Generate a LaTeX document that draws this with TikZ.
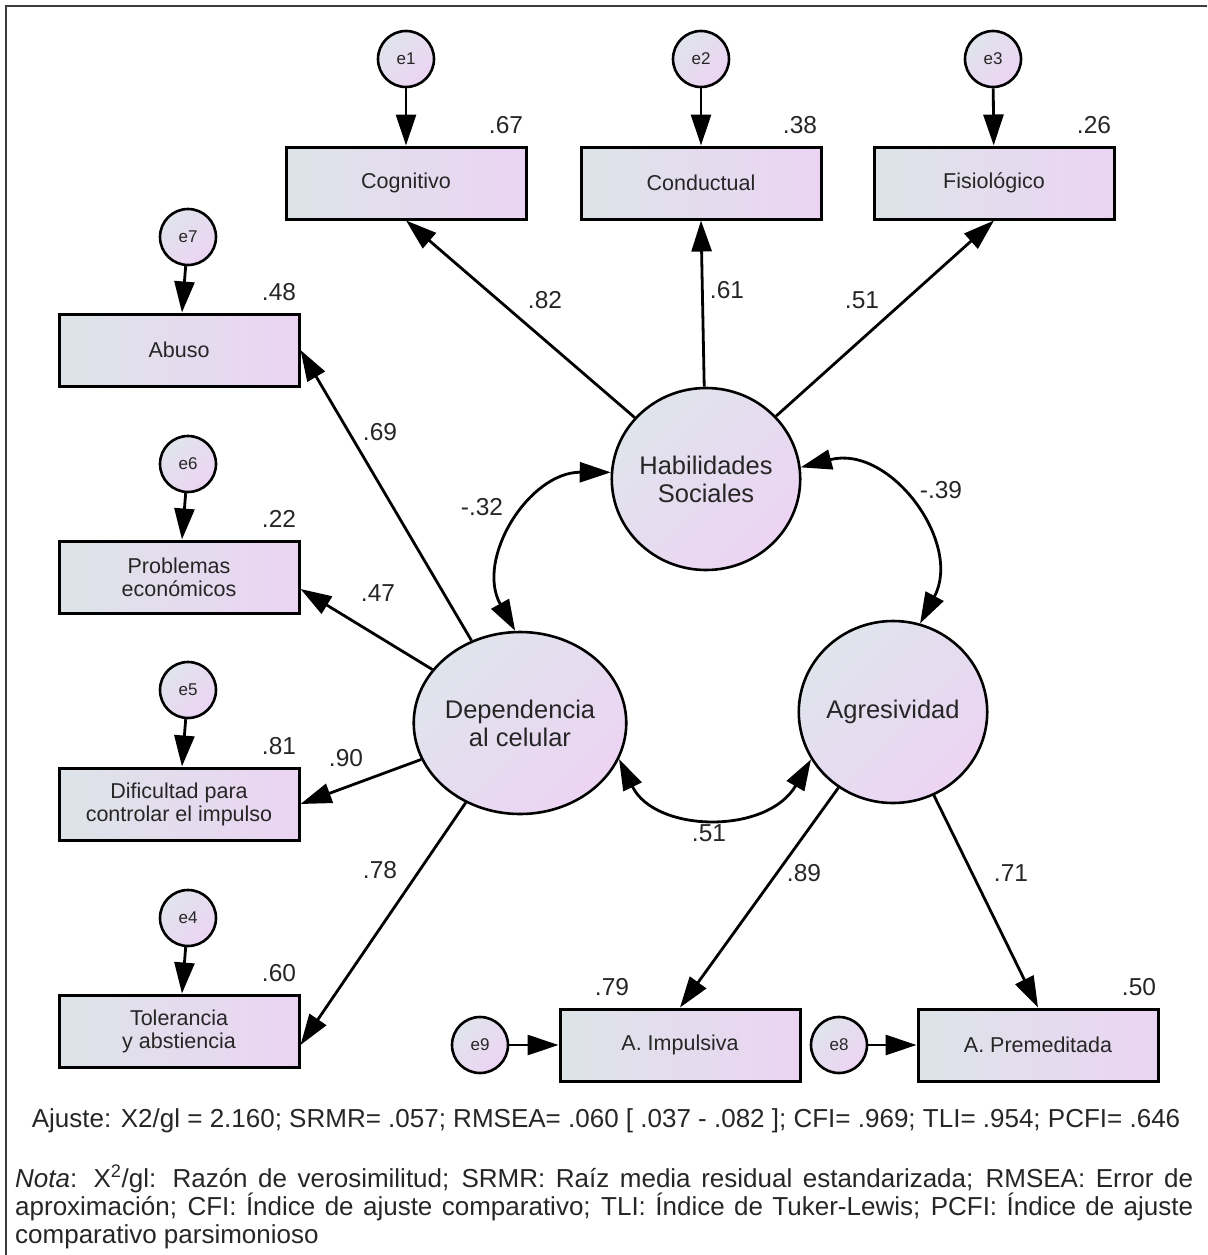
\documentclass[tikz,border=0pt]{standalone}
\usepackage{fontspec}
\setmainfont{Liberation Sans}
\usetikzlibrary{arrows.meta,shapes.geometric}
\definecolor{bxL}{RGB}{221,228,232}
\definecolor{bxR}{RGB}{235,212,243}
\definecolor{ciL}{RGB}{224,228,236}
\definecolor{ciR}{RGB}{236,212,243}
\definecolor{frm}{RGB}{60,60,60}
\begin{document}
\begin{tikzpicture}[x=1pt,y=-1pt,
  obs/.style={draw, line width=3pt, minimum width=240pt, minimum height=72pt, inner sep=0pt,
    left color=bxL, right color=bxR, align=center, text=black!85,
    font=\fontsize{21.5}{23}\selectfont},
  lat/.style={ellipse, draw, line width=2.6pt, minimum width=188pt, minimum height=182pt, inner sep=0pt,
    left color=ciL, right color=ciR, shading angle=45, align=center, text=black!85,
    font=\fontsize{25.5}{28}\selectfont},
  err/.style={circle, draw, line width=2.6pt, minimum size=56pt, inner sep=0pt,
    left color=ciL, right color=ciR, shading angle=45, text=black!85,
    font=\fontsize{17}{17}\selectfont},
  arr/.style={line width=2.8pt, -{Triangle[length=31pt,width=20pt]}},
  cov/.style={line width=2.8pt, {Triangle[length=31pt,width=20pt]}-{Triangle[length=31pt,width=20pt]}},
  num/.style={inner sep=0pt, text=black!85, font=\fontsize{24.5}{24.5}\selectfont},
  ftxt/.style={inner sep=0pt, text=black!85, font=\fontsize{26}{27.5}\selectfont}
]
\useasboundingbox (0,0) rectangle (1207,1255);
\draw[line width=1.8pt, frm] (6,1255) -- (6,6) -- (1207,6);

% top indicators
\node[obs] (cog) at (406,183) {Cognitivo};
\node[obs] (con) at (701,183) {Conductual};
\node[obs] (fis) at (994,183) {Fisiológico};
\node[err] (e1) at (406,59) {e1};
\node[err] (e2) at (701,59) {e2};
\node[err] (e3) at (993,59) {e3};

% latent
\node[lat] (hab) at (706,479) {Habilidades\\Sociales};
\node[lat] (dep) at (520,723) {Dependencia\\al celular};
\node[lat] (agr) at (893,712) {Agresividad};

% left indicators
\node[obs] (abu) at (179,350) {Abuso};
\node[obs] (pro) at (179,577) {Problemas\\económicos};
\node[obs] (dif) at (179,804) {Dificultad para\\controlar el impulso};
\node[obs] (tol) at (179,1031) {Tolerancia\\y abstiencia};
\node[err] (e7) at (188,237) {e7};
\node[err] (e6) at (188,464) {e6};
\node[err] (e5) at (188,690) {e5};
\node[err] (e4) at (188,918) {e4};

% bottom indicators
\node[obs] (imp) at (680,1045) {A. Impulsiva};
\node[obs] (pre) at (1038,1045) {A. Premeditada};
\node[err] (e9) at (480,1045) {e9};
\node[err] (e8) at (839,1045) {e8};

% error arrows
\draw[arr] (e1) -- (cog);
\draw[arr] (e2) -- (con);
\draw[arr] (e3) -- (fis);
\draw[arr] (e7) -- (abu);
\draw[arr] (e6) -- (pro);
\draw[arr] (e5) -- (dif);
\draw[arr] (e4) -- (tol);
\draw[arr] (e9) -- (imp);
\draw[arr] (e8) -- (pre);

% loadings
\draw[arr] (hab) -- (cog.south);
\draw[arr] (hab) -- (con.south);
\draw[arr] (hab) -- (fis.south);
\draw[arr] (dep) -- (abu.east);
\draw[arr] (dep) -- ([yshift=-12pt]pro.east);
\draw[arr] (dep) -- (dif.east);
\draw[arr] (dep) -- ([yshift=-14pt]tol.east);
\draw[arr] (agr) -- (imp.north);
\draw[arr] (agr) -- (pre.north);

% covariances
\draw[cov] (dep.93) .. controls (475,559) and (529,472) .. (hab.176);
\draw[cov] (hab.7) .. controls (890,444) and (963,543) .. (agr.73);
\draw[cov] (dep.-20) .. controls (655,833) and (767,835) .. (agr.210);

% R2 values
\node[num] (r1) at (506,125) {.67};
\node[num] (r2) at (800,125) {.38};
\node[num] (r3) at (1094,125) {.26};
\node[num] (r7) at (279,292) {.48};
\node[num] (r6) at (279,519) {.22};
\node[num] (r5) at (279,746) {.81};
\node[num] (r4) at (279,973) {.60};
\node[num] (r9) at (612,987) {.79};
\node[num] (r8) at (1139,987) {.50};

% path coefficients
\node[num] (l1) at (545,300) {.82};
\node[num] (l2) at (727,290) {.61};
\node[num] (l3) at (862,300) {.51};
\node[num] (l4) at (380,432) {.69};
\node[num] (l5) at (378,593) {.47};
\node[num] (l6) at (346,758) {.90};
\node[num] (l7) at (380,870) {.78};
\node[num] (l8) at (804,873) {.89};
\node[num] (l9) at (1011,873) {.71};
\node[num] (c1) at (482,507) {-.32};
\node[num] (c2) at (941,490) {-.39};
\node[num] (c3) at (709,833) {.51};

% fit and note
\node[ftxt, anchor=base] (fit) at (606,1127) {Ajuste: X2/gl = 2.160; SRMR= .057; RMSEA= .060 [ .037 - .082 ]; CFI= .969; TLI= .954; PCFI= .646};
\node[ftxt, anchor=base west, text width=1178pt, align=justify] (nota) at (15,1187)
 {\textit{Nota}: X\textsuperscript{2}/gl: Razón de verosimilitud; SRMR: Raíz media residual estandarizada; RMSEA: Error de\linebreak aproximación; CFI: Índice de ajuste comparativo; TLI: Índice de Tuker-Lewis; PCFI: Índice de ajuste\linebreak comparativo parsimonioso};
\end{tikzpicture}
\end{document}
